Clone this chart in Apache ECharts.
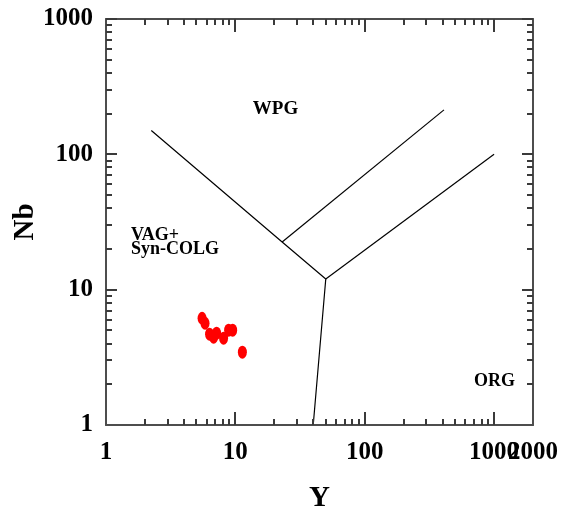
<!DOCTYPE html>
<html>
<head>
<meta charset="utf-8">
<script src="https://cdn.jsdelivr.net/npm/echarts@6/dist/echarts.min.js"></script>
<style>html,body{margin:0;padding:0;background:#fff}#c{width:568px;height:511px}</style>
</head>
<body>
<div id="c"></div>
<script>
// ---- data ----
var sampleY  = [5.53, 5.83, 6.32, 6.79, 7.16, 8.11, 8.87, 9.53, 11.33];
var sampleNb = [6.15, 5.65, 4.69, 4.45, 4.77, 4.38, 5.02, 5.02, 3.45];

var boundaryMainY  = [2.24, 23, 50, 40];
var boundaryMainNb = [150, 22.5, 12, 1];
var boundaryUpperY  = [23, 410];
var boundaryUpperNb = [22.5, 213];
var boundaryLowerY  = [50, 1000];
var boundaryLowerNb = [12, 100];

var xTickValues = [1, 10, 100, 1000];
var xTickLabels = ['1', '10', '100', '1000'];
var xEndValue = 2000;
var xEndLabel = '2000';
var xMajorTicks = [10, 100, 1000];
var xMinorTicks = [2,3,4,5,6,7,8,9,20,30,40,50,60,70,80,90,200,300,400,500,600,700,800,900];
var yTickValues = [1, 10, 100, 1000];
var yTickLabels = ['1', '10', '100', '1000'];
var yMajorTicks = [10, 100, 1000];
var yMinorTicks = [2,3,4,5,6,7,8,9,20,30,40,50,60,70,80,90,200,300,400,500,600,700,800,900];

var xMin = 1, xMax = 2000, yMin = 1, yMax = 1000;

// ---- helpers ----
function pairs(a, b) { return a.map(function (v, i) { return [v, b[i]]; }); }
function lg(v) { return Math.log10(v); }
var FONT = '"Liberation Serif", "Times New Roman", Times, serif';
var AXC = '#4d4d4d';
var TICKC = '#3a3a3a';
var MAJOR_X = 13, MAJOR_Y = 11, MINOR = 6;

function labelFor(vals, labels) {
  return function (v) {
    var best = 0, bd = 1e9;
    for (var i = 0; i < vals.length; i++) {
      var d = Math.abs(lg(vals[i]) - v);
      if (d < bd) { bd = d; best = i; }
    }
    return labels[best];
  };
}

function logAxis(pos, min, max, extra) {
  var o = {
    type: 'log', logBase: 10, min: min, max: max, position: pos,
    axisLine: { show: true, onZero: false, lineStyle: { color: AXC, width: 2 } },
    axisTick: { show: false }, axisLabel: { show: false }, splitLine: { show: false }
  };
  for (var k in extra) o[k] = extra[k];
  return o;
}
function labelAxis(pos, min, max, vals, labels, margin) {
  return {
    type: 'value', min: lg(min), max: lg(max), position: pos,
    axisLine: { show: false, onZero: false },
    axisTick: { show: false },
    axisLabel: {
      show: true, customValues: vals.map(lg), formatter: labelFor(vals, labels),
      margin: margin, hideOverlap: false, color: '#000',
      fontFamily: FONT, fontWeight: 'bold', fontSize: 25
    },
    splitLine: { show: false }
  };
}

// tick positions (values) and their lengths, looked up by data index
var xTickPos = xMajorTicks.concat(xMinorTicks);
var xTickLen = xMajorTicks.map(function () { return MAJOR_X; })
  .concat(xMinorTicks.map(function () { return MINOR; }));
var yTickPos = yMajorTicks.concat(yMinorTicks);
var yTickLen = yMajorTicks.map(function () { return MAJOR_Y; })
  .concat(yMinorTicks.map(function () { return MINOR; }));

function tickRect(x, y, w, h) {
  return { type: 'rect', shape: { x: x, y: y, width: w, height: h },
           style: { fill: TICKC } };
}

var chart = echarts.init(document.getElementById('c'), null, { renderer: 'canvas' });
chart.setOption({
  animation: false,
  backgroundColor: '#fff',
  grid: { left: 106, right: 35, top: 19, bottom: 86, containLabel: false, outerBoundsMode: 'none' },
  xAxis: [
    logAxis('bottom', xMin, xMax, {
      name: 'Y', nameLocation: 'middle', nameGap: 59,
      nameTextStyle: { fontFamily: FONT, fontWeight: 'bold', fontSize: 29, color: '#000' }
    }),
    labelAxis('bottom', xMin, xMax, xTickValues, xTickLabels, 15),
    labelAxis('bottom', xMin, xMax, [xEndValue], [xEndLabel], 15),
    logAxis('top', xMin, xMax, {})
  ],
  yAxis: [
    logAxis('left', yMin, yMax, {
      name: 'Nb', nameLocation: 'middle', nameGap: 66,
      nameTextStyle: { fontFamily: FONT, fontWeight: 'bold', fontSize: 29, color: '#000' }
    }),
    labelAxis('left', yMin, yMax, yTickValues, yTickLabels, 13),
    logAxis('right', yMin, yMax, {})
  ],
  series: [
    { type: 'custom', name: 'xTicks', xAxisIndex: 0, yAxisIndex: 0, clip: false, silent: true, z: 5,
      data: xTickPos.map(function (v) { return [v, yMin]; }),
      renderItem: function (params, api) {
        var v = xTickPos[params.dataIndex], len = xTickLen[params.dataIndex];
        var b = api.coord([v, yMin]), t = api.coord([v, yMax]);
        var px = Math.round(b[0]) - 1;
        return { type: 'group', children: [
          tickRect(px, Math.round(b[1]) - len, 2, len),
          tickRect(px, Math.round(t[1]), 2, len)
        ] };
      } },
    { type: 'custom', name: 'yTicks', xAxisIndex: 0, yAxisIndex: 0, clip: false, silent: true, z: 5,
      data: yTickPos.map(function (v) { return [xMin, v]; }),
      renderItem: function (params, api) {
        var v = yTickPos[params.dataIndex], len = yTickLen[params.dataIndex];
        var l = api.coord([xMin, v]), r = api.coord([xMax, v]);
        var py = Math.round(l[1]) - 1;
        return { type: 'group', children: [
          tickRect(Math.round(l[0]), py, len, 2),
          tickRect(Math.round(r[0]) - len, py, len, 2)
        ] };
      } },
    { type: 'line', xAxisIndex: 0, yAxisIndex: 0, data: pairs(boundaryMainY, boundaryMainNb),
      showSymbol: false, symbol: 'none', lineStyle: { color: '#000', width: 1.2 }, silent: true },
    { type: 'line', xAxisIndex: 0, yAxisIndex: 0, data: pairs(boundaryUpperY, boundaryUpperNb),
      showSymbol: false, symbol: 'none', lineStyle: { color: '#000', width: 1.2 }, silent: true },
    { type: 'line', xAxisIndex: 0, yAxisIndex: 0, data: pairs(boundaryLowerY, boundaryLowerNb),
      showSymbol: false, symbol: 'none', lineStyle: { color: '#000', width: 1.2 }, silent: true },
    { type: 'scatter', xAxisIndex: 0, yAxisIndex: 0, data: pairs(sampleY, sampleNb),
      symbol: 'circle', symbolSize: [9, 13], itemStyle: { color: '#ff0000', opacity: 1 } }
  ],
  graphic: [
    { type: 'text', x: 275.5, y: 109.5, style: { text: 'WPG', font: 'bold 19px ' + FONT, fill: '#000', align: 'center', verticalAlign: 'middle' } },
    { type: 'text', x: 131, y: 228, style: { text: 'VAG+\nSyn-COLG', font: 'bold 18px ' + FONT, lineHeight: 14, fill: '#000', align: 'left', verticalAlign: 'top' } },
    { type: 'text', x: 494.5, y: 381, style: { text: 'ORG', font: 'bold 18px ' + FONT, fill: '#000', align: 'center', verticalAlign: 'middle' } }
  ]
});
</script>
</body>
</html>
